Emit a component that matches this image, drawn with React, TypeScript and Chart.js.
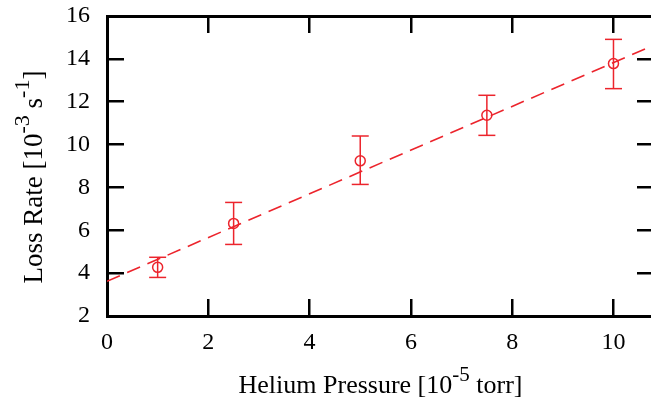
import React, { useEffect, useRef } from "react";
import { Chart, registerables } from "chart.js";

Chart.register(...registerables);

// ---- data ----
const pressure = [1, 2.5, 5, 7.5, 10];
const lossRate = [4.27, 6.32, 9.24, 11.37, 13.78];
const errLow = [3.8, 5.34, 8.14, 10.43, 12.61];
const errHigh = [4.74, 7.3, 10.4, 12.3, 14.91];
const fitX = [0, 10.8];
const fitY = [3.62, 14.64];
const xTicks = [0, 2, 4, 6, 8, 10];
const yTicks = [2, 4, 6, 8, 10, 12, 14, 16];
const xRange = [0, 10.8];
const yRange = [2, 16];
const xTitleParts: [string, boolean][] = [
  ["Helium Pressure [10", false],
  ["-5", true],
  [" torr]", false],
];
const yTitleParts: [string, boolean][] = [
  ["Loss Rate [10", false],
  ["-3", true],
  [" s", false],
  ["-1", true],
  ["]", false],
];

const RED = "rgb(236, 36, 44)";
const FONT = "'Liberation Serif', 'Times New Roman', serif";
const TICK_SIZE = 24;
const TITLE_SIZE = 26;

function drawRich(ctx: CanvasRenderingContext2D, parts: [string, boolean][], cx: number, baseY: number, size: number) {
  const supSize = Math.round(size * 0.8);
  let total = 0;
  const widths = parts.map(([t, sup]) => {
    ctx.font = `${sup ? supSize : size}px ${FONT}`;
    const w = ctx.measureText(t).width;
    total += w;
    return w;
  });
  let x = cx - total / 2;
  parts.forEach(([t, sup], i) => {
    ctx.font = `${sup ? supSize : size}px ${FONT}`;
    ctx.fillText(t, x, sup ? baseY - size * 0.48 : baseY);
    x += widths[i];
  });
}

const titlePlugin = {
  id: "richAxisTitles",
  afterDraw(chart: any) {
    const ctx: CanvasRenderingContext2D = chart.ctx;
    const ca = chart.chartArea;
    ctx.save();
    ctx.fillStyle = "#000";
    ctx.textAlign = "left";
    ctx.textBaseline = "alphabetic";
    drawRich(ctx, xTitleParts, (ca.left + ca.right) / 2, 393, TITLE_SIZE);
    ctx.translate(42, 177);
    ctx.rotate(-Math.PI / 2);
    drawRich(ctx, yTitleParts, 0, 0, 27);
    ctx.restore();
  },
};

function axisBase(ticksArr: number[], range: number[], size: number, horizontal: boolean) {
  return {
    type: "linear" as const,
    min: range[0],
    max: range[1],
    afterBuildTicks: (s: any) => {
      s.ticks = ticksArr.map((v) => ({ value: v }));
    },
    afterFit: (s: any) => {
      if (horizontal) s.height = size;
      else s.width = size;
      s.paddingTop = 0;
      s.paddingBottom = 0;
      s.paddingLeft = 0;
      s.paddingRight = 0;
    },
    grid: {
      drawOnChartArea: false,
      drawTicks: true,
      tickLength: -17,
      color: "#000",
      lineWidth: 2.5,
    },
    border: { display: true, color: "#000", width: 3 },
  };
}

export default function App() {
  const ref = useRef<HTMLCanvasElement | null>(null);

  useEffect(() => {
    if (!ref.current) return;
    const errorSets = pressure.map((p, i) => ({
      data: [
        { x: p, y: errLow[i] },
        { x: p, y: errHigh[i] },
      ],
      showLine: true,
      borderColor: RED,
      borderWidth: 1.5,
      pointStyle: "line" as const,
      pointRadius: 8.5,
      pointBorderWidth: 1.5,
      pointBorderColor: RED,
      pointBackgroundColor: RED,
    }));

    const chart = new Chart(ref.current, {
      type: "scatter",
      data: {
        datasets: [
          {
            data: fitX.map((x, i) => ({ x, y: fitY[i] })),
            showLine: true,
            borderColor: RED,
            borderWidth: 1.6,
            borderDash: [14, 8],
            pointRadius: 0,
          },
          ...errorSets,
          {
            data: pressure.map((x, i) => ({ x, y: lossRate[i] })),
            showLine: false,
            pointStyle: "circle",
            pointRadius: 5,
            pointBorderWidth: 1.5,
            pointBorderColor: RED,
            pointBackgroundColor: "rgba(0,0,0,0)",
          },
        ],
      },
      options: {
        responsive: false,
        animation: false,
        events: [],
        layout: { padding: 0 },
        plugins: { legend: { display: false }, tooltip: { enabled: false } },
        scales: {
          x: {
            ...axisBase(xTicks, xRange, 85, true),
            position: "bottom",
            ticks: {
              color: "#000",
              font: { family: FONT, size: TICK_SIZE },
              padding: 29,
              maxRotation: 0,
              autoSkip: false,
            },
          },
          x2: {
            ...axisBase(xTicks, xRange, 16, true),
            position: "top",
            ticks: { display: false },
          },
          y: {
            ...axisBase(yTicks, yRange, 107, false),
            position: "left",
            ticks: {
              color: "#000",
              font: { family: FONT, size: TICK_SIZE },
              padding: 34,
              autoSkip: false,
            },
          },
          y2: {
            ...axisBase(yTicks, yRange, 16, false),
            position: "right",
            ticks: { display: false },
          },
        },
      } as any,
      plugins: [titlePlugin],
    });
    return () => chart.destroy();
  }, []);

  return (
    <div
      style={{
        position: "absolute",
        left: 0,
        top: 0,
        width: 651,
        height: 401,
        overflow: "hidden",
        background: "#fff",
      }}
    >
      <canvas ref={ref} width={670} height={401} style={{ width: 670, height: 401, display: "block" }} />
    </div>
  );
}
